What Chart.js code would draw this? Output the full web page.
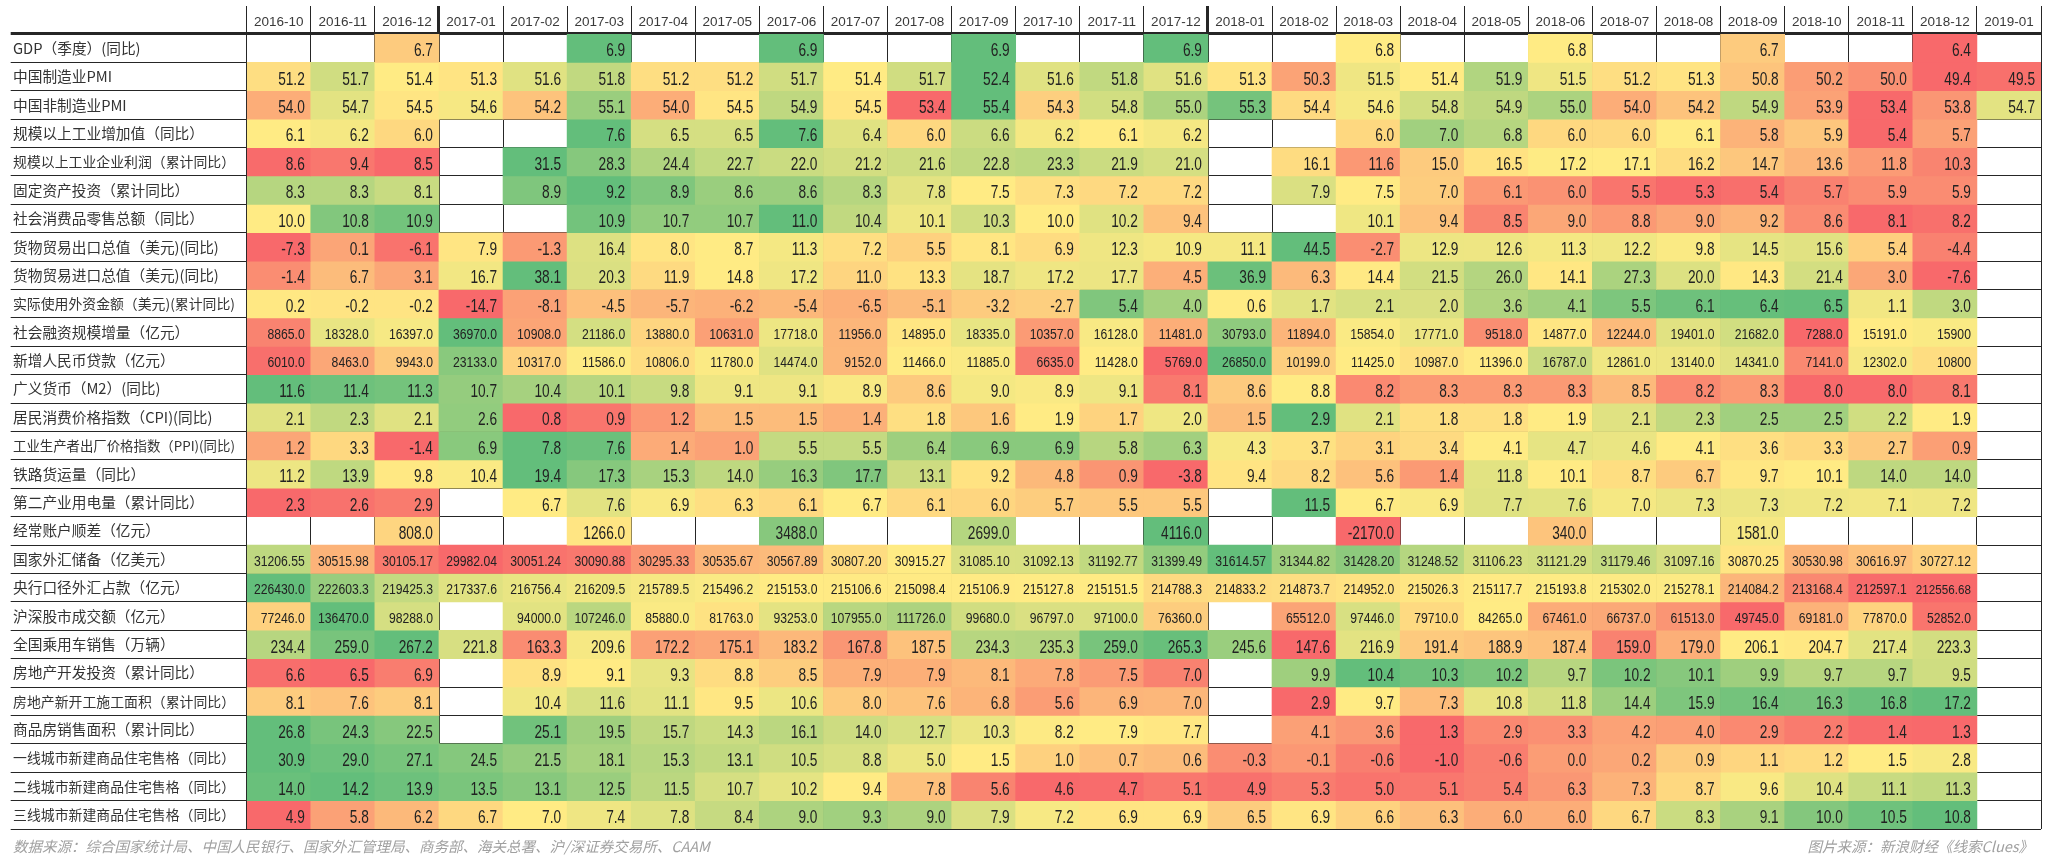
<!DOCTYPE html>
<html><head><meta charset="utf-8">
<script src="https://cdn.jsdelivr.net/npm/chart.js@4.4.1/dist/chart.umd.min.js"></script>
<style>html,body{margin:0;padding:0;background:#fff;}canvas{display:block}</style>
</head><body>
<canvas id="c" width="2048" height="863"></canvas>
<script>
const months = ['2016-10','2016-11','2016-12','2017-01','2017-02','2017-03','2017-04','2017-05','2017-06','2017-07','2017-08','2017-09','2017-10','2017-11','2017-12','2018-01','2018-02','2018-03','2018-04','2018-05','2018-06','2018-07','2018-08','2018-09','2018-10','2018-11','2018-12','2019-01'];
const rowNames = ['GDP（季度）(同比)','中国制造业PMI','中国非制造业PMI','规模以上工业增加值（同比）','规模以上工业企业利润（累计同比）','固定资产投资（累计同比）','社会消费品零售总额（同比）','货物贸易出口总值（美元)(同比)','货物贸易进口总值（美元)(同比)','实际使用外资金额（美元)(累计同比)','社会融资规模增量（亿元）','新增人民币贷款（亿元）','广义货币（M2）(同比)','居民消费价格指数（CPI)(同比)','工业生产者出厂价格指数（PPI)(同比)','铁路货运量（同比）','第二产业用电量（累计同比）','经常账户顺差（亿元）','国家外汇储备（亿美元）','央行口径外汇占款（亿元）','沪深股市成交额（亿元）','全国乘用车销售（万辆）','房地产开发投资（累计同比）','房地产新开工施工面积（累计同比）','商品房销售面积（累计同比）','一线城市新建商品住宅售格（同比）','二线城市新建商品住宅售格（同比）','三线城市新建商品住宅售格（同比）'];

const gdp = [null,null,6.7,null,null,6.9,null,null,6.9,null,null,6.9,null,null,6.9,null,null,6.8,null,null,6.8,null,null,6.7,null,null,6.4,null];
const pmiMfg = [51.2,51.7,51.4,51.3,51.6,51.8,51.2,51.2,51.7,51.4,51.7,52.4,51.6,51.8,51.6,51.3,50.3,51.5,51.4,51.9,51.5,51.2,51.3,50.8,50.2,50.0,49.4,49.5];
const pmiNonMfg = [54.0,54.7,54.5,54.6,54.2,55.1,54.0,54.5,54.9,54.5,53.4,55.4,54.3,54.8,55.0,55.3,54.4,54.6,54.8,54.9,55.0,54.0,54.2,54.9,53.9,53.4,53.8,54.7];
const indOutput = [6.1,6.2,6.0,null,null,7.6,6.5,6.5,7.6,6.4,6.0,6.6,6.2,6.1,6.2,null,null,6.0,7.0,6.8,6.0,6.0,6.1,5.8,5.9,5.4,5.7,null];
const indProfit = [8.6,9.4,8.5,null,31.5,28.3,24.4,22.7,22.0,21.2,21.6,22.8,23.3,21.9,21.0,null,16.1,11.6,15.0,16.5,17.2,17.1,16.2,14.7,13.6,11.8,10.3,null];
const fixedInv = [8.3,8.3,8.1,null,8.9,9.2,8.9,8.6,8.6,8.3,7.8,7.5,7.3,7.2,7.2,null,7.9,7.5,7.0,6.1,6.0,5.5,5.3,5.4,5.7,5.9,5.9,null];
const retail = [10.0,10.8,10.9,null,null,10.9,10.7,10.7,11.0,10.4,10.1,10.3,10.0,10.2,9.4,null,null,10.1,9.4,8.5,9.0,8.8,9.0,9.2,8.6,8.1,8.2,null];
const exportsUsd = [-7.3,0.1,-6.1,7.9,-1.3,16.4,8.0,8.7,11.3,7.2,5.5,8.1,6.9,12.3,10.9,11.1,44.5,-2.7,12.9,12.6,11.3,12.2,9.8,14.5,15.6,5.4,-4.4,null];
const importsUsd = [-1.4,6.7,3.1,16.7,38.1,20.3,11.9,14.8,17.2,11.0,13.3,18.7,17.2,17.7,4.5,36.9,6.3,14.4,21.5,26.0,14.1,27.3,20.0,14.3,21.4,3.0,-7.6,null];
const fdi = [0.2,-0.2,-0.2,-14.7,-8.1,-4.5,-5.7,-6.2,-5.4,-6.5,-5.1,-3.2,-2.7,5.4,4.0,0.6,1.7,2.1,2.0,3.6,4.1,5.5,6.1,6.4,6.5,1.1,3.0,null];
const tsf = [8865.0,18328.0,16397.0,36970.0,10908.0,21186.0,13880.0,10631.0,17718.0,11956.0,14895.0,18335.0,10357.0,16128.0,11481.0,30793.0,11894.0,15854.0,17771.0,9518.0,14877.0,12244.0,19401.0,21682.0,7288.0,15191.0,15900,null];
const newLoans = [6010.0,8463.0,9943.0,23133.0,10317.0,11586.0,10806.0,11780.0,14474.0,9152.0,11466.0,11885.0,6635.0,11428.0,5769.0,26850.0,10199.0,11425.0,10987.0,11396.0,16787.0,12861.0,13140.0,14341.0,7141.0,12302.0,10800,null];
const m2 = [11.6,11.4,11.3,10.7,10.4,10.1,9.8,9.1,9.1,8.9,8.6,9.0,8.9,9.1,8.1,8.6,8.8,8.2,8.3,8.3,8.3,8.5,8.2,8.3,8.0,8.0,8.1,null];
const cpi = [2.1,2.3,2.1,2.6,0.8,0.9,1.2,1.5,1.5,1.4,1.8,1.6,1.9,1.7,2.0,1.5,2.9,2.1,1.8,1.8,1.9,2.1,2.3,2.5,2.5,2.2,1.9,null];
const ppi = [1.2,3.3,-1.4,6.9,7.8,7.6,1.4,1.0,5.5,5.5,6.4,6.9,6.9,5.8,6.3,4.3,3.7,3.1,3.4,4.1,4.7,4.6,4.1,3.6,3.3,2.7,0.9,null];
const railFreight = [11.2,13.9,9.8,10.4,19.4,17.3,15.3,14.0,16.3,17.7,13.1,9.2,4.8,0.9,-3.8,9.4,8.2,5.6,1.4,11.8,10.1,8.7,6.7,9.7,10.1,14.0,14.0,null];
const power2nd = [2.3,2.6,2.9,null,6.7,7.6,6.9,6.3,6.1,6.7,6.1,6.0,5.7,5.5,5.5,null,11.5,6.7,6.9,7.7,7.6,7.0,7.3,7.3,7.2,7.1,7.2,null];
const currentAcct = [null,null,808.0,null,null,1266.0,null,null,3488.0,null,null,2699.0,null,null,4116.0,null,null,-2170.0,null,null,340.0,null,null,1581.0,null,null,null,null];
const fxReserves = [31206.55,30515.98,30105.17,29982.04,30051.24,30090.88,30295.33,30535.67,30567.89,30807.20,30915.27,31085.10,31092.13,31192.77,31399.49,31614.57,31344.82,31428.20,31248.52,31106.23,31121.29,31179.46,31097.16,30870.25,30530.98,30616.97,30727.12,null];
const pbocFx = [226430.0,222603.3,219425.3,217337.6,216756.4,216209.5,215789.5,215496.2,215153.0,215106.6,215098.4,215106.9,215127.8,215151.5,214788.3,214833.2,214873.7,214952.0,215026.3,215117.7,215193.8,215302.0,215278.1,214084.2,213168.4,212597.1,212556.68,null];
const stockTurnover = [77246.0,136470.0,98288.0,null,94000.0,107246.0,85880.0,81763.0,93253.0,107955.0,111726.0,99680.0,96797.0,97100.0,76360.0,null,65512.0,97446.0,79710.0,84265.0,67461.0,66737.0,61513.0,49745.0,69181.0,77870.0,52852.0,null];
const carSales = [234.4,259.0,267.2,221.8,163.3,209.6,172.2,175.1,183.2,167.8,187.5,234.3,235.3,259.0,265.3,245.6,147.6,216.9,191.4,188.9,187.4,159.0,179.0,206.1,204.7,217.4,223.3,null];
const reInvest = [6.6,6.5,6.9,null,8.9,9.1,9.3,8.8,8.5,7.9,7.9,8.1,7.8,7.5,7.0,null,9.9,10.4,10.3,10.2,9.7,10.2,10.1,9.9,9.7,9.7,9.5,null];
const newStarts = [8.1,7.6,8.1,null,10.4,11.6,11.1,9.5,10.6,8.0,7.6,6.8,5.6,6.9,7.0,null,2.9,9.7,7.3,10.8,11.8,14.4,15.9,16.4,16.3,16.8,17.2,null];
const houseSales = [26.8,24.3,22.5,null,25.1,19.5,15.7,14.3,16.1,14.0,12.7,10.3,8.2,7.9,7.7,null,4.1,3.6,1.3,2.9,3.3,4.2,4.0,2.9,2.2,1.4,1.3,null];
const tier1 = [30.9,29.0,27.1,24.5,21.5,18.1,15.3,13.1,10.5,8.8,5.0,1.5,1.0,0.7,0.6,-0.3,-0.1,-0.6,-1.0,-0.6,0.0,0.2,0.9,1.1,1.2,1.5,2.8,null];
const tier2 = [14.0,14.2,13.9,13.5,13.1,12.5,11.5,10.7,10.2,9.4,7.8,5.6,4.6,4.7,5.1,4.9,5.3,5.0,5.1,5.4,6.3,7.3,8.7,9.6,10.4,11.1,11.3,null];
const tier3 = [4.9,5.8,6.2,6.7,7.0,7.4,7.8,8.4,9.0,9.3,9.0,7.9,7.2,6.9,6.9,6.5,6.9,6.6,6.3,6.0,6.0,6.7,8.3,9.1,10.0,10.5,10.8,null];

const rows = [gdp,pmiMfg,pmiNonMfg,indOutput,indProfit,fixedInv,retail,exportsUsd,importsUsd,fdi,tsf,newLoans,m2,cpi,ppi,railFreight,power2nd,currentAcct,fxReserves,pbocFx,stockTurnover,carSales,reInvest,newStarts,houseSales,tier1,tier2,tier3];
const rowDecimals = rows.map(r => r === fxReserves ? 2 : 1);
// cells whose printed text uses a different precision than the rest of the row
const textOverrides = { '10|26': '15900', '11|26': '10800', '19|26': '212556.68' };

const footLeft = '数据来源：综合国家统计局、中国人民银行、国家外汇管理局、商务部、海关总署、沪/深证券交易所、CAAM';
const footRight = '图片来源：新浪财经《线索Clues》';

// Excel-style 3-colour scale (min red, 50th percentile yellow, max green), per row
const RED=[248,105,107], YEL=[255,235,132], GRN=[99,190,123];
function rowStats(vals){
  const v = vals.filter(x => x != null).sort((a,b)=>a-b);
  const n = v.length, pos = (n-1)*0.5, lo = Math.floor(pos), hi = Math.ceil(pos);
  return {min:v[0], max:v[n-1], mid:v[lo]+(v[hi]-v[lo])*(pos-lo)};
}
const stats = rows.map(rowStats);
function mix(a,b,t){ t=Math.max(0,Math.min(1,t)); return 'rgb('+a.map((x,i)=>Math.round(x+(b[i]-x)*t)).join(',')+')'; }
function colorFor(r, v){
  const s = stats[r];
  if (v <= s.mid) return mix(RED, YEL, s.mid===s.min ? 1 : (v-s.min)/(s.mid-s.min));
  return mix(YEL, GRN, s.max===s.mid ? 1 : (v-s.mid)/(s.max-s.mid));
}
const smallRow = rows.map(r => Math.max(...r.filter(x=>x!=null).map(Math.abs)) >= 10000);

const datasets = rows.map((vals, r) => ({
  label: rowNames[r],
  data: vals.map((v, c) => v == null ? null : {
    y: rowNames[r], x: [c, c+1], v: v,
    t: textOverrides[r+'|'+c] || v.toFixed(rowDecimals[r])
  }).filter(d => d),
  backgroundColor: ctx => ctx.raw ? colorFor(ctx.datasetIndex, ctx.raw.v) : 'transparent'
}));

const measureCtx = document.createElement('canvas').getContext('2d');
const LABEL_FONT = '"Noto Sans CJK SC", "Noto Sans", sans-serif';
function labelSize(text){
  const base = 14.7, maxW = 222;
  measureCtx.font = base + 'px ' + LABEL_FONT;
  const w = measureCtx.measureText(text).width;
  return w > maxW ? base * maxW / w : base;
}

const cellText = {
  id: 'cellText',
  afterDatasetsDraw(chart){
    const ctx = chart.ctx;
    chart.data.datasets.forEach((ds, di) => {
      const meta = chart.getDatasetMeta(di);
      meta.data.forEach((el, i) => {
        const raw = ds.data[i];
        const p = el.getProps(['x','base','y','height'], true);
        const right = Math.max(p.x, p.base), cellW = Math.abs(p.x - p.base);
        const small = smallRow[di];
        const size = small ? 14 : 18.5;
        const sx = small ? 0.87 : 0.74;
        ctx.save();
        ctx.font = size + 'px "Liberation Sans", Arial, sans-serif';
        const w = ctx.measureText(raw.t).width * sx;
        const avail = cellW - 9;
        const k = w > avail ? avail / w : 1;
        const capH = 0.716 * size * k;
        ctx.translate(right - 6, p.y + 1.5 + capH/2);
        ctx.scale(sx*k, k);
        ctx.textAlign = 'right';
        ctx.textBaseline = 'alphabetic';
        ctx.fillStyle = '#222';
        ctx.fillText(raw.t, 0, 0);
        ctx.restore();
      });
    });
  }
};

const footer = {
  id: 'footer',
  afterDraw(chart){
    const ctx = chart.ctx;
    ctx.save();
    ctx.font = 'italic 14.5px "Noto Sans CJK SC", sans-serif';
    ctx.fillStyle = '#a0a0a0';
    ctx.textBaseline = 'middle';
    ctx.textAlign = 'left';
    ctx.fillText(footLeft, 13, 846);
    ctx.textAlign = 'right';
    ctx.fillText(footRight, 2033, 846);
    ctx.restore();
  }
};

const LINE = '#262626';
new Chart(document.getElementById('c'), {
  type: 'bar',
  data: { labels: rowNames, datasets },
  options: {
    indexAxis: 'y',
    responsive: false,
    animation: false,
    events: [],
    devicePixelRatio: 1,
    layout: { padding: { left: 13, right: 7, top: 0, bottom: 34 } },
    plugins: { legend: { display: false }, tooltip: { enabled: false } },
    datasets: { bar: { barPercentage: 1, categoryPercentage: 1, grouped: false, borderWidth: 0 } },
    scales: {
      y: {
        type: 'category', position: 'left', offset: true, z: 1,
        grid: { offset: true, drawOnChartArea: true, drawTicks: true, tickLength: 236, color: LINE,
                lineWidth: c => c.index === 0 ? 3 : 1 },
        border: { display: false },
        ticks: { autoSkip: false, crossAlign: 'far', color: '#333',
                 font: c => ({ family: LABEL_FONT, size: c.index != null ? labelSize(rowNames[c.index]) : 14.7 }) },
        afterFit: s => { s.width = 233.7; }
      },
      x: {
        type: 'linear', position: 'bottom', min: 0, max: months.length, z: 1,
        ticks: { display: false, stepSize: 1, autoSkip: false },
        grid: { drawTicks: false, color: LINE,
                lineWidth: c => (c.tick && (c.tick.value === 3 || c.tick.value === 15)) ? 3 : 1 },
        border: { display: false },
        afterFit: s => { s.height = 0; }
      },
      x2: {
        type: 'category', position: 'top', labels: months, offset: true, z: 1,
        grid: { offset: true, drawOnChartArea: false, drawTicks: true, tickLength: 28, color: LINE,
                lineWidth: c => (c.index === 3 || c.index === 15) ? 3 : 1 },
        border: { display: false },
        ticks: { autoSkip: false, maxRotation: 0, minRotation: 0, padding: -24, color: '#3a3a3a',
                 font: { family: '"Liberation Sans", Arial, sans-serif', size: 13.5 } },
        afterFit: s => { s.height = 34; }
      }
    }
  },
  plugins: [cellText, footer]
});
</script>
</body></html>
